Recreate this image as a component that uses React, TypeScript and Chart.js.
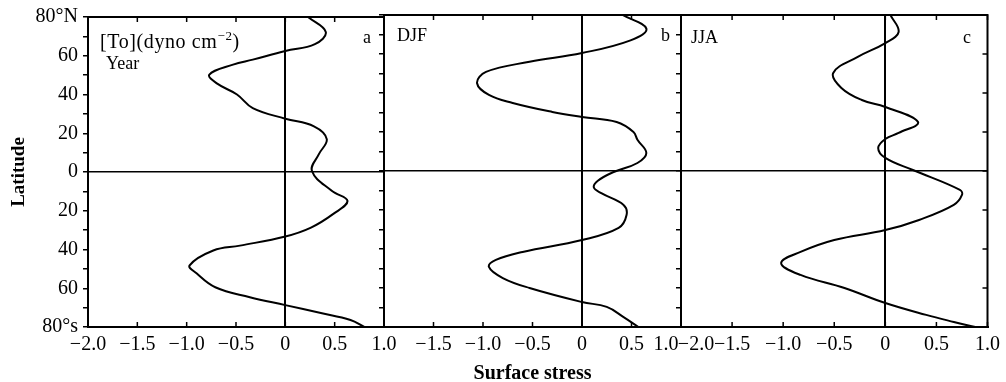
import React, { useEffect, useRef } from "react";
import { Chart, registerables } from "chart.js";

Chart.register(...registerables);

const FONT = "'Liberation Serif', 'Times New Roman', serif";

// Panel a — annual mean
const latYear = [80, 72.3, 66, 62.5, 58, 55.4, 50.3, 45.6, 40, 33, 27.5, 23.6, 17, 9.2, 0.5, -9.7, -14.9, -21.5, -28.7, -33.3, -38, -40.5, -48.2, -52.3, -59.5, -64.6, -68.7, -72.8, -76.4, -80];
const stressYear = [0.23, 0.41, 0.3, 0, -0.33, -0.53, -0.77, -0.69, -0.49, -0.33, 0, 0.29, 0.42, 0.34, 0.27, 0.47, 0.63, 0.49, 0.26, 0, -0.46, -0.73, -0.97, -0.9, -0.71, -0.36, 0, 0.36, 0.66, 0.8];

// Panel b — DJF
const latDJF = [80, 73, 67, 60.5, 56, 50.8, 45, 39, 34.9, 30.3, 27.7, 25.1, 20, 16, 9.2, 4.1, -0.5, -5, -8.5, -11.5, -17.4, -22.6, -29.2, -35.4, -41.5, -45.6, -49.2, -54.9, -60, -67.2, -69.7, -74.9, -80];
const stressDJF = [0.41, 0.65, 0.49, 0, -0.53, -0.97, -1.06, -0.94, -0.7, -0.3, 0, 0.35, 0.52, 0.56, 0.65, 0.56, 0.32, 0.16, 0.12, 0.2, 0.42, 0.45, 0.37, 0, -0.6, -0.87, -0.94, -0.8, -0.53, 0, 0.25, 0.42, 0.57];

// Panel c — JJA
const latJJA = [80, 71.3, 65.6, 58.5, 50.3, 42.6, 36.4, 32.8, 25.1, 19.5, 16.4, 11.8, 6.7, 0.5, -9.7, -12.3, -17.4, -25.1, -30.3, -35.4, -41.5, -47.2, -53.3, -60, -67.7, -73.8, -77.4, -80];
const stressJJA = [0.05, 0.13, 0, -0.27, -0.51, -0.43, -0.23, 0, 0.32, 0.13, 0, -0.07, 0, 0.27, 0.73, 0.75, 0.67, 0.33, 0, -0.5, -0.83, -1.02, -0.83, -0.4, 0, 0.4, 0.67, 0.88];

const xTickValues = [-2, -1.5, -1, -0.5, 0, 0.5, 1];
const yTickValues = [80, 60, 40, 20, 0, -20, -40, -60, -80];

const fmtX = (v: number) => (v === 0 ? "0" : (v < 0 ? "\u2212" : "") + Math.abs(v).toFixed(1));
const fmtY = (v: number) => (v === 80 ? "80°N" : v === -80 ? "80°s" : String(Math.abs(v)));

type Panel = {
  lat: number[];
  stress: number[];
  left: number;
  right: number;
  showY: boolean;
  rightTicks: boolean;
  xLabel: (v: number) => string;
  xTitle: boolean;
};

const framePlugin = {
  id: "frame",
  afterDraw(chart: any, _args: any, opts: any) {
    const { ctx, chartArea } = chart;
    const { left, right, top, bottom } = chartArea;
    const x = chart.scales.x;
    const y = chart.scales.y;
    ctx.save();
    ctx.strokeStyle = "#000";
    ctx.lineWidth = 2;
    ctx.beginPath();
    ctx.moveTo(left, top);
    ctx.lineTo(right, top);
    ctx.lineTo(right, bottom);
    ctx.stroke();
    ctx.lineWidth = 1.5;
    ctx.beginPath();
    x.ticks.forEach((t: any) => {
      const px = x.getPixelForValue(t.value);
      ctx.moveTo(px, bottom);
      ctx.lineTo(px, bottom - 5);
      ctx.moveTo(px, top);
      ctx.lineTo(px, top + 5);
    });
    if (opts && opts.rightTicks) {
      yTickValues.forEach((v) => {
        const py = y.getPixelForValue(v);
        ctx.moveTo(right, py);
        ctx.lineTo(right - 5, py);
      });
    }
    ctx.stroke();
    ctx.restore();
  },
};

function makeConfig(p: Panel): any {
  return {
    type: "scatter",
    data: {
      datasets: [
        {
          data: p.lat.map((lat, i) => ({ x: p.stress[i], y: lat })),
          showLine: true,
          borderColor: "#000",
          borderWidth: 2,
          pointRadius: 0,
          tension: 0.4,
          fill: false,
        },
      ],
    },
    options: {
      animation: false,
      responsive: false,
      maintainAspectRatio: false,
      events: [],
      layout: {
        padding: { left: p.showY ? 0 : p.left, right: 1006 - p.right, top: 15, bottom: 0 },
      },
      plugins: {
        legend: { display: false },
        tooltip: { enabled: false },
        frame: { rightTicks: p.rightTicks },
      },
      scales: {
        x: {
          type: "linear",
          position: "bottom",
          min: -2,
          max: 1,
          afterFit: (s: any) => {
            s.height = 55;
          },
          afterBuildTicks: (s: any) => {
            s.ticks = xTickValues.map((v) => ({ value: v }));
          },
          ticks: {
            autoSkip: false,
            maxRotation: 0,
            minRotation: 0,
            padding: 6,
            color: "#000",
            font: { family: FONT, size: 20 },
            callback: (v: number) => p.xLabel(v),
          },
          grid: {
            drawTicks: false,
            color: (c: any) => (c.tick && c.tick.value === 0 ? "#000" : "rgba(0,0,0,0)"),
            lineWidth: 2,
          },
          border: { display: true, color: "#000", width: 2 },
          title: {
            display: p.xTitle,
            text: "Surface stress",
            color: "#000",
            font: { family: FONT, size: 20, weight: "bold", lineHeight: 1 },
            padding: { top: 0, bottom: -2 },
          },
        },
        y: {
          type: "linear",
          position: "left",
          min: -80,
          max: 80,
          afterFit: (s: any) => {
            s.width = p.showY ? 88 : 0;
          },
          ticks: {
            stepSize: 10,
            autoSkip: false,
            padding: 5,
            display: p.showY,
            color: "#000",
            font: { family: FONT, size: 20 },
            callback: (v: number) => (v % 20 === 0 ? fmtY(v) : ""),
          },
          grid: {
            drawTicks: true,
            tickLength: 5,
            tickColor: "#000",
            tickWidth: 1.5,
            color: (c: any) => (c.tick && c.tick.value === 0 ? "#000" : "rgba(0,0,0,0)"),
            lineWidth: 1.5,
          },
          border: { display: true, color: "#000", width: 2 },
          title: {
            display: p.showY,
            text: "Latitude",
            color: "#000",
            font: { family: FONT, size: 19, weight: "bold" },
            padding: { top: 8, bottom: 0 },
          },
        },
      },
    },
    plugins: [framePlugin],
  };
}

const panels: Panel[] = [
  {
    lat: latYear,
    stress: stressYear,
    left: 88,
    right: 384,
    showY: true,
    rightTicks: false,
    xLabel: fmtX,
    xTitle: false,
  },
  {
    lat: latDJF,
    stress: stressDJF,
    left: 384,
    right: 681,
    showY: false,
    rightTicks: false,
    xLabel: (v: number) => (v === -2 ? "" : v === 1 ? fmtX(v) + "      " : fmtX(v)),
    xTitle: true,
  },
  {
    lat: latJJA,
    stress: stressJJA,
    left: 681,
    right: 988,
    showY: false,
    rightTicks: true,
    xLabel: (v: number) => (v === -2 ? "      " + fmtX(v) : fmtX(v)),
    xTitle: false,
  },
];

function PanelCanvas({ panel }: { panel: Panel }) {
  const ref = useRef<HTMLCanvasElement | null>(null);
  useEffect(() => {
    if (!ref.current) return;
    const chart = new Chart(ref.current, makeConfig(panel));
    return () => chart.destroy();
  }, [panel]);
  return (
    <canvas
      ref={ref}
      width={1006}
      height={382}
      style={{ position: "absolute", left: 0, top: 0, width: 1006, height: 382 }}
    />
  );
}

const label = (left: number, top: number, size: number): React.CSSProperties => ({
  position: "absolute",
  left,
  top,
  fontFamily: FONT,
  fontSize: size,
  lineHeight: "20px",
  color: "#000",
  whiteSpace: "nowrap",
});

export default function App() {
  return (
    <div style={{ position: "absolute", left: 0, top: 0, width: 1006, height: 382, background: "#fff", overflow: "hidden" }}>
      {panels.map((p, i) => (
        <PanelCanvas key={i} panel={p} />
      ))}
      <div style={{ ...label(100, 31, 20), letterSpacing: 0.6 }}>
        [To](dyno cm<sup style={{ fontSize: 13, verticalAlign: "top", position: "relative", top: -5 }}>{"\u2212"}2</sup>)
      </div>
      <div style={label(106, 53, 18)}>Year</div>
      <div style={label(363, 27, 18)}>a</div>
      <div style={label(397, 25, 18)}>DJF</div>
      <div style={label(661, 25, 18)}>b</div>
      <div style={label(691, 27, 18)}>JJA</div>
      <div style={label(963, 27, 18)}>c</div>
    </div>
  );
}
